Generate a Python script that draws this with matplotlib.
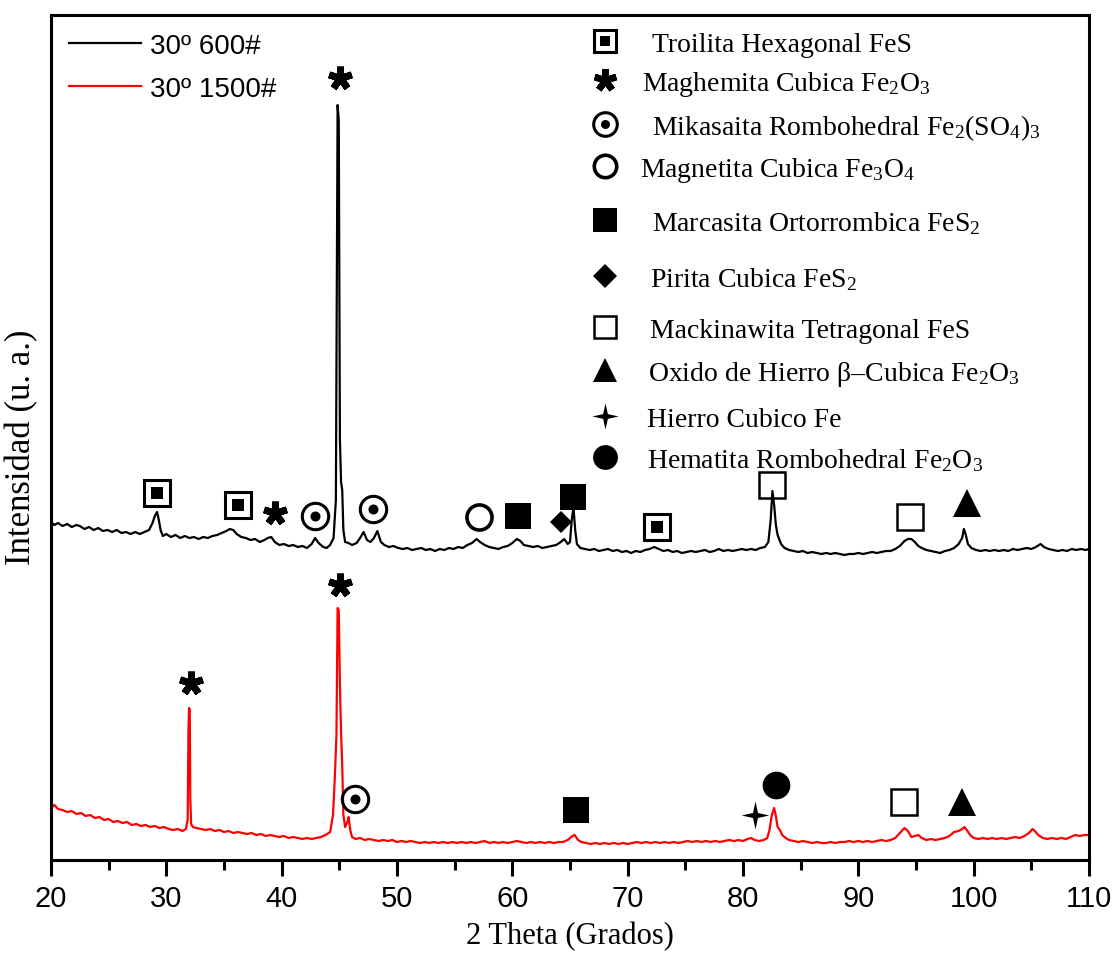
import numpy as np
import matplotlib.pyplot as plt

plt.rcParams['font.family'] = ['Liberation Serif', 'DejaVu Serif']
plt.rcParams['mathtext.fontset'] = 'custom'
plt.rcParams['mathtext.rm'] = 'Liberation Serif'
plt.rcParams['mathtext.it'] = 'Liberation Serif:italic'

# difractograma muestra 30º 600#  (2theta, intensidad)
pts_600 = [
    (20.0, 338), (20.3, 335), (20.6, 337), (21.0, 334), (21.4, 336), (21.8, 333), (22.2, 335), (22.5, 334),
    (22.9, 331), (23.3, 333), (23.7, 330), (24.1, 332), (24.5, 329), (24.9, 330), (25.3, 328), (25.7, 330),
    (26.1, 327), (26.5, 328), (26.9, 326), (27.3, 328), (27.7, 326), (28.1, 328), (28.5, 330), (28.8, 337),
    (29.0, 344), (29.2, 348), (29.35, 340), (29.5, 330), (29.7, 324), (30.0, 326), (30.4, 323), (30.8, 325),
    (31.2, 322), (31.6, 324), (32.0, 322), (32.4, 323), (32.8, 321), (33.2, 323), (33.6, 322), (34.0, 324),
    (34.4, 325), (34.8, 327), (35.2, 329), (35.5, 331), (35.8, 330), (36.1, 326), (36.5, 323), (36.9, 322),
    (37.3, 320), (37.7, 321), (38.1, 318), (38.5, 320), (38.8, 322), (39.1, 323), (39.4, 318), (39.8, 315),
    (40.2, 316), (40.6, 314), (41.0, 315), (41.4, 313), (41.8, 314), (42.2, 312), (42.6, 316), (42.9, 322),
    (43.2, 317), (43.6, 313), (43.9, 312), (44.2, 315), (44.5, 322), (44.7, 360), (44.85, 755), (44.95, 740),
    (45.05, 420), (45.15, 378), (45.25, 370), (45.35, 330), (45.5, 318), (45.8, 317), (46.1, 315), (46.5, 317),
    (46.8, 322), (47.1, 328), (47.4, 320), (47.7, 318), (48.0, 322), (48.3, 329), (48.6, 318), (48.9, 315),
    (49.3, 313), (49.7, 314), (50.1, 312), (50.5, 311), (50.9, 312), (51.3, 310), (51.7, 311), (52.1, 312),
    (52.5, 310), (52.9, 311), (53.3, 309), (53.7, 311), (54.1, 310), (54.5, 312), (54.9, 311), (55.3, 313),
    (55.7, 312), (56.1, 315), (56.5, 317), (56.9, 321), (57.2, 318), (57.6, 315), (58.0, 313), (58.4, 312),
    (58.8, 311), (59.2, 313), (59.6, 314), (60.0, 317), (60.4, 321), (60.7, 319), (61.0, 315), (61.4, 314),
    (61.8, 313), (62.2, 314), (62.6, 312), (63.0, 313), (63.4, 314), (63.8, 315), (64.2, 318), (64.5, 321),
    (64.8, 316), (65.0, 318), (65.15, 340), (65.3, 353), (65.45, 330), (65.6, 316), (65.9, 312), (66.3, 311),
    (66.7, 310), (67.1, 311), (67.5, 309), (67.9, 310), (68.3, 311), (68.7, 309), (69.1, 310), (69.5, 308),
    (69.9, 309), (70.3, 307), (70.7, 309), (71.1, 308), (71.5, 310), (71.9, 311), (72.3, 313), (72.7, 311),
    (73.1, 309), (73.5, 310), (73.9, 308), (74.3, 309), (74.7, 307), (75.1, 308), (75.5, 309), (75.9, 308),
    (76.3, 309), (76.7, 310), (77.1, 308), (77.5, 309), (77.9, 311), (78.3, 309), (78.7, 310), (79.1, 309),
    (79.5, 310), (79.9, 311), (80.3, 310), (80.7, 311), (81.1, 310), (81.5, 312), (81.9, 313), (82.2, 318),
    (82.4, 340), (82.55, 369), (82.7, 355), (82.85, 335), (83.0, 325), (83.3, 316), (83.6, 312), (84.0, 310),
    (84.4, 309), (84.8, 308), (85.2, 309), (85.6, 307), (86.0, 308), (86.4, 307), (86.8, 306), (87.2, 307),
    (87.6, 306), (88.0, 307), (88.4, 306), (88.8, 305), (89.2, 306), (89.6, 306), (90.0, 307), (90.4, 306),
    (90.8, 307), (91.2, 308), (91.6, 307), (92.0, 308), (92.4, 309), (92.8, 309), (93.2, 311), (93.6, 314),
    (94.0, 319), (94.3, 321), (94.6, 321), (94.9, 318), (95.2, 314), (95.5, 312), (95.9, 310), (96.3, 309),
    (96.7, 308), (97.1, 307), (97.5, 309), (97.9, 310), (98.3, 312), (98.7, 316), (99.0, 322), (99.15, 331),
    (99.3, 326), (99.5, 316), (99.8, 312), (100.2, 310), (100.6, 309), (101.0, 310), (101.4, 309), (101.8, 310),
    (102.2, 309), (102.6, 310), (103.0, 309), (103.4, 311), (103.8, 310), (104.2, 311), (104.6, 312), (105.0, 311),
    (105.4, 313), (105.8, 316), (106.1, 313), (106.5, 311), (106.9, 310), (107.3, 309), (107.7, 310), (108.1, 309),
    (108.5, 311), (108.9, 310), (109.3, 311), (109.7, 310), (110.0, 311),
]

# difractograma muestra 30º 1500#
pts_1500 = [
    (20.0, 52), (20.3, 55), (20.6, 51), (21.0, 50), (21.4, 48), (21.8, 49), (22.2, 46), (22.6, 47),
    (23.0, 44), (23.4, 45), (23.8, 42), (24.2, 43), (24.6, 40), (25.0, 41), (25.4, 38), (25.8, 39),
    (26.2, 37), (26.6, 38), (27.0, 35), (27.4, 36), (27.8, 34), (28.2, 35), (28.6, 33), (29.0, 34),
    (29.4, 32), (29.8, 33), (30.2, 31), (30.6, 30), (31.0, 31), (31.4, 29), (31.7, 31), (31.85, 40),
    (31.92, 130), (31.97, 152), (32.03, 150), (32.08, 60), (32.15, 36), (32.3, 33), (32.6, 32), (33.0, 31),
    (33.4, 30), (33.8, 31), (34.2, 29), (34.6, 30), (35.0, 28), (35.4, 29), (35.8, 27), (36.2, 28),
    (36.6, 27), (37.0, 26), (37.4, 27), (37.8, 25), (38.2, 26), (38.6, 24), (39.0, 25), (39.4, 24),
    (39.8, 23), (40.2, 24), (40.6, 22), (41.0, 23), (41.4, 22), (41.8, 21), (42.2, 22), (42.6, 21),
    (43.0, 22), (43.4, 23), (43.8, 25), (44.2, 28), (44.45, 45), (44.6, 80), (44.75, 125), (44.85, 252),
    (44.95, 250), (45.05, 175), (45.15, 128), (45.25, 95), (45.35, 45), (45.5, 33), (45.7, 38), (45.8, 43),
    (45.95, 30), (46.1, 23), (46.4, 21), (46.8, 22), (47.2, 20), (47.6, 21), (48.0, 20), (48.4, 19),
    (48.8, 20), (49.2, 19), (49.6, 20), (50.0, 18), (50.4, 19), (50.8, 18), (51.2, 19), (51.6, 18),
    (52.0, 17), (52.4, 18), (52.8, 17), (53.2, 18), (53.6, 17), (54.0, 18), (54.4, 17), (54.8, 18),
    (55.2, 17), (55.6, 18), (56.0, 17), (56.4, 18), (56.8, 17), (57.2, 18), (57.6, 19), (58.0, 17),
    (58.4, 18), (58.8, 17), (59.2, 18), (59.6, 17), (60.0, 18), (60.4, 19), (60.8, 18), (61.2, 17),
    (61.6, 18), (62.0, 17), (62.4, 18), (62.8, 17), (63.2, 18), (63.6, 17), (64.0, 18), (64.4, 18),
    (64.8, 20), (65.2, 24), (65.4, 25), (65.7, 20), (66.0, 18), (66.4, 17), (66.8, 16), (67.2, 17),
    (67.6, 16), (68.0, 17), (68.4, 16), (68.8, 17), (69.2, 16), (69.6, 17), (70.0, 16), (70.4, 17),
    (70.8, 18), (71.2, 17), (71.6, 18), (72.0, 17), (72.4, 18), (72.8, 17), (73.2, 18), (73.6, 17),
    (74.0, 18), (74.4, 17), (74.8, 18), (75.2, 19), (75.6, 18), (76.0, 19), (76.4, 18), (76.8, 19),
    (77.2, 18), (77.6, 19), (78.0, 18), (78.4, 19), (78.8, 20), (79.2, 19), (79.6, 20), (80.0, 19),
    (80.4, 21), (80.7, 22), (81.0, 20), (81.4, 19), (81.8, 20), (82.1, 22), (82.3, 30), (82.5, 45),
    (82.7, 52), (82.85, 44), (83.0, 33), (83.2, 30), (83.4, 25), (83.7, 22), (84.0, 20), (84.4, 19),
    (84.8, 18), (85.2, 19), (85.6, 18), (86.0, 17), (86.4, 18), (86.8, 17), (87.2, 17), (87.6, 18),
    (88.0, 17), (88.4, 18), (88.8, 18), (89.2, 19), (89.6, 18), (90.0, 19), (90.4, 18), (90.8, 19),
    (91.2, 18), (91.6, 19), (92.0, 20), (92.4, 19), (92.8, 20), (93.2, 22), (93.6, 27), (94.0, 32),
    (94.3, 29), (94.6, 23), (94.9, 24), (95.2, 25), (95.5, 22), (95.9, 20), (96.3, 21), (96.7, 20),
    (97.1, 21), (97.5, 22), (97.9, 24), (98.3, 28), (98.7, 29), (99.0, 31), (99.2, 33), (99.4, 30),
    (99.7, 25), (100.0, 22), (100.4, 21), (100.8, 22), (101.2, 21), (101.6, 22), (102.0, 21), (102.4, 22),
    (102.8, 21), (103.2, 22), (103.6, 23), (104.0, 22), (104.4, 24), (104.8, 27), (105.1, 31), (105.3, 29),
    (105.6, 25), (106.0, 22), (106.4, 21), (106.8, 22), (107.2, 21), (107.6, 22), (108.0, 21), (108.4, 23),
    (108.8, 25), (109.2, 24), (109.6, 25), (110.0, 25),
]

# fases identificadas sobre cada curva (fase, 2theta, altura del simbolo)
marks_600 = [
    ('troilita', 29.2, 367), ('troilita', 36.2, 355), ('maghemita', 39.4, 347), ('mikasaita', 42.9, 344),
    ('maghemita', 45.1, 782), ('mikasaita', 47.9, 351), ('magnetita', 57.1, 343), ('marcasita', 60.5, 344),
    ('pirita', 64.2, 338), ('marcasita', 65.3, 363), ('troilita', 72.5, 333), ('mackinawita', 82.5, 375),
    ('mackinawita', 94.5, 343), ('oxido', 99.4, 357),
]
marks_1500 = [
    ('maghemita', 32.1, 177), ('maghemita', 45.1, 275), ('mikasaita', 46.4, 61), ('marcasita', 65.5, 50),
    ('hierro', 81.0, 45), ('hematita', 82.9, 75), ('mackinawita', 94.0, 58), ('oxido', 99.0, 58),
]

phases = ['troilita', 'maghemita', 'mikasaita', 'magnetita', 'marcasita',
          'pirita', 'mackinawita', 'oxido', 'hierro', 'hematita']
phase_names = [
    'Troilita Hexagonal FeS',
    'Maghemita Cubica Fe$_2$O$_3$',
    'Mikasaita Rombohedral Fe$_2$(SO$_4$)$_3$',
    'Magnetita Cubica Fe$_3$O$_4$',
    'Marcasita Ortorrombica FeS$_2$',
    'Pirita Cubica FeS$_2$',
    'Mackinawita Tetragonal FeS',
    'Oxido de Hierro β–Cubica Fe$_2$O$_3$',
    'Hierro Cubico Fe',
    'Hematita Rombohedral Fe$_2$O$_3$',
]

theta_600 = np.array([p[0] for p in pts_600])
int_600 = np.array([p[1] for p in pts_600])
theta_1500 = np.array([p[0] for p in pts_1500])
int_1500 = np.array([p[1] for p in pts_1500])

star4 = [(0, 1), (0.18, 0.18), (1, 0), (0.18, -0.18), (0, -1), (-0.18, -0.18), (-1, 0), (-0.18, 0.18)]


def mark(ax, x, y, kind, s=19, **kw):
    kw.setdefault('zorder', 5)
    k = dict(linestyle='none', **kw)
    if kind == 'troilita':
        ax.plot(x, y, marker='s', ms=s, mfc='none', mec='k', mew=2.2, **k)
        ax.plot(x, y, marker='s', ms=s * 0.45, mfc='k', mec='k', mew=0, **k)
    elif kind == 'maghemita':
        ax.plot(x, y, marker=(5, 2, 0), ms=s * 0.9, mec='k', mew=s * 0.26, **k)
    elif kind == 'mikasaita':
        ax.plot(x, y, marker='o', ms=s, mfc='none', mec='k', mew=2.2, **k)
        ax.plot(x, y, marker='o', ms=s * 0.38, mfc='k', mec='k', mew=0, **k)
    elif kind == 'magnetita':
        ax.plot(x, y, marker='o', ms=s * 0.95, mfc='none', mec='k', mew=2.6, **k)
    elif kind == 'marcasita':
        ax.plot(x, y, marker='s', ms=s, mfc='k', mec='k', mew=0, **k)
    elif kind == 'pirita':
        ax.plot(x, y, marker='D', ms=s * 0.6, mfc='k', mec='k', mew=0, **k)
    elif kind == 'mackinawita':
        ax.plot(x, y, marker='s', ms=s * 0.95, mfc='none', mec='k', mew=1.8, **k)
    elif kind == 'oxido':
        ax.plot(x, y, marker='^', ms=s * 1.05, mfc='k', mec='k', mew=0, **k)
    elif kind == 'hierro':
        ax.plot(x, y, marker=star4, ms=s * 1.05, mfc='k', mec='k', mew=0, **k)
    elif kind == 'hematita':
        ax.plot(x, y, marker='o', ms=s * 1.05, mfc='k', mec='k', mew=0, **k)


fig = plt.figure(figsize=(11.2, 9.54), dpi=100)
ax = fig.add_axes([51 / 1120, 1 - 861 / 954, 1038 / 1120, 845 / 954])

ax.plot(theta_600, int_600, color='black', lw=1.6, label='30º 600#')
ax.plot(theta_1500, int_1500, color='#ff0000', lw=1.6, label='30º 1500#')

for kind, x, y in marks_600:
    mark(ax, x, y, kind)
for kind, x, y in marks_1500:
    mark(ax, x, y, kind)

# leyenda de fases (columna derecha)
row_px = [42, 81, 125, 167, 221, 277, 328, 371, 417, 458]
text_px = [652, 642, 652, 640, 652, 650, 650, 648, 647, 647]
leg_size = [16, 18, 17, 17, 17, 20, 17, 17, 18, 17]
for kind, name, ry, tx, sz in zip(phases, phase_names, row_px, text_px, leg_size):
    fy = (861 - ry) / 845
    mark(ax, (605 - 51) / 1038, fy, kind, s=sz, transform=ax.transAxes, clip_on=False)
    ax.text((tx - 51) / 1038, (861 - ry - 10) / 845, name, transform=ax.transAxes,
            fontsize=20, va='baseline', ha='left')

ax.set_xlim(20, 110)
ax.set_ylim(0, 845)
ax.set_xticks(np.arange(20, 111, 10))
ax.set_xticks(np.arange(25, 110, 10), minor=True)
ax.set_yticks([])
ax.tick_params(axis='x', which='major', direction='out', length=11.5, width=2.2,
               labelsize=21, pad=6, labelfontfamily='Liberation Sans')
ax.tick_params(axis='x', which='minor', direction='out', length=7, width=2.2)
for sp in ax.spines.values():
    sp.set_linewidth(2.2)

ax.set_xlabel('2 Theta (Grados)', fontsize=22)
ax.xaxis.set_label_coords(0.5, -0.072)
ax.set_ylabel('Intensidad (u. a.)', fontsize=25)
ax.yaxis.set_label_coords(-0.012, 0.49)

ax.legend(loc='upper left', bbox_to_anchor=(0, 1), frameon=False,
          prop={'family': 'Liberation Sans', 'size': 20},
          handlelength=2.6, handletextpad=0.3, labelspacing=0.6, borderaxespad=0.25)

plt.savefig('out.png', dpi=100)
